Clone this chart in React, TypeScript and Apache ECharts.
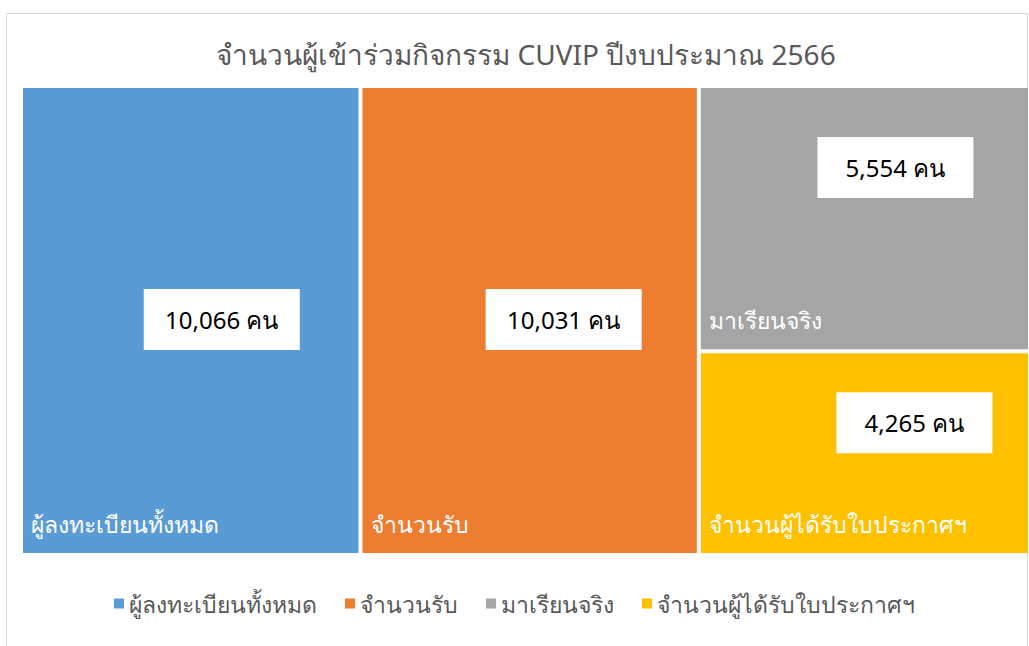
import React, { useEffect, useRef } from "react";
import * as echarts from "echarts";

const titleText = "จำนวนผู้เข้าร่วมกิจกรรม CUVIP ปีงบประมาณ 2566";
const categories = ["ผู้ลงทะเบียนทั้งหมด", "จำนวนรับ", "มาเรียนจริง", "จำนวนผู้ได้รับใบประกาศฯ"];
const values = [10066, 10031, 5554, 4265];
const colors = ["#5B9BD5", "#ED7D31", "#A5A5A5", "#FFC000"];
const unit = "คน";
// label box offsets from each cell's top (manual placement as in the original)
const valueLabelOffsets: [number, number][] = [[31, 196], [34, 196], [31, 44], [50, 34]];

const FONT = "'Noto Sans', 'DejaVu Sans', sans-serif";
const CLEAR = "rgba(0,0,0,0)";

export default function App() {
  const ref = useRef<HTMLDivElement>(null);
  useEffect(() => {
    if (!ref.current) return;
    const chart = echarts.init(ref.current, undefined, { renderer: "svg" });
    const area = { left: 23, top: 88, width: 1005, height: 465 };
    const nameData = categories.map((c, i) => ({
      name: c,
      value: values[i],
      itemStyle: { color: colors[i] },
    }));
    const valueData = categories.map((c, i) => ({
      name: c,
      value: values[i],
      itemStyle: { color: CLEAR, borderColor: CLEAR },
      label: { offset: valueLabelOffsets[i] },
    }));
    const common = {
      type: "treemap",
      ...area,
      roam: false,
      nodeClick: false,
      breadcrumb: { show: false },
      squareRatio: 1,
      sort: false,
    };
    const legendSeries = categories.map((c, i) => ({
      type: "pie",
      name: c,
      data: [],
      radius: 0,
      center: [-100, -100],
      showEmptyCircle: false,
      color: colors[i],
      itemStyle: { color: colors[i] },
    }));
    chart.setOption({
      animation: false,
      title: {
        text: titleText,
        left: 521,
        textAlign: "center",
        top: 35,
        textStyle: { fontFamily: FONT, fontSize: 28, fontWeight: "normal", color: "#595959" },
      },
      legend: {
        data: categories.map((c, i) => ({ name: c, itemStyle: { color: colors[i] } })),
        top: 587,
        left: "center",
        icon: "rect",
        itemWidth: 10,
        itemHeight: 10,
        itemGap: 28,
        textStyle: { fontFamily: FONT, fontSize: 23, color: "#595959" },
      },
      graphic: [
        {
          type: "rect",
          shape: { x: 6.5, y: 13.5, width: 1021, height: 700 },
          style: { fill: "none", stroke: "#D9D9D9", lineWidth: 1 },
          silent: true,
        },
      ],
      series: [
        {
          ...common,
          name: "names",
          data: nameData,
          levels: [{ itemStyle: { borderWidth: 0, gapWidth: 4, borderColor: "#fff" } }],
          label: {
            show: true,
            position: "insideBottomLeft",
            distance: 6,
            offset: [-3, -7],
            color: "#fff",
            fontFamily: FONT,
            fontSize: 23,
            formatter: "{b}",
          },
        },
        {
          ...common,
          name: "values",
          silent: true,
          data: valueData,
          levels: [{ itemStyle: { borderWidth: 0, gapWidth: 4, borderColor: CLEAR, color: CLEAR } }],
          label: {
            show: true,
            position: ["50%", "50%"],
            align: "center",
            verticalAlign: "middle",
            color: "#000",
            fontFamily: FONT,
            fontSize: 24,
            formatter: (p: any) => `{box|${p.value.toLocaleString("en-US")} ${unit}}`,
            rich: {
              box: {
                backgroundColor: "#fff",
                width: 156,
                height: 61,
                lineHeight: 61,
                align: "center",
                verticalAlign: "middle",
                color: "#000",
                fontFamily: FONT,
                fontSize: 24,
              },
            },
          },
        },
        ...legendSeries,
      ],
    } as any);
    return () => chart.dispose();
  }, []);
  return (
    <div
      ref={ref}
      style={{ position: "fixed", left: 0, top: 0, width: 1029, height: 646, background: "#fff" }}
    />
  );
}
